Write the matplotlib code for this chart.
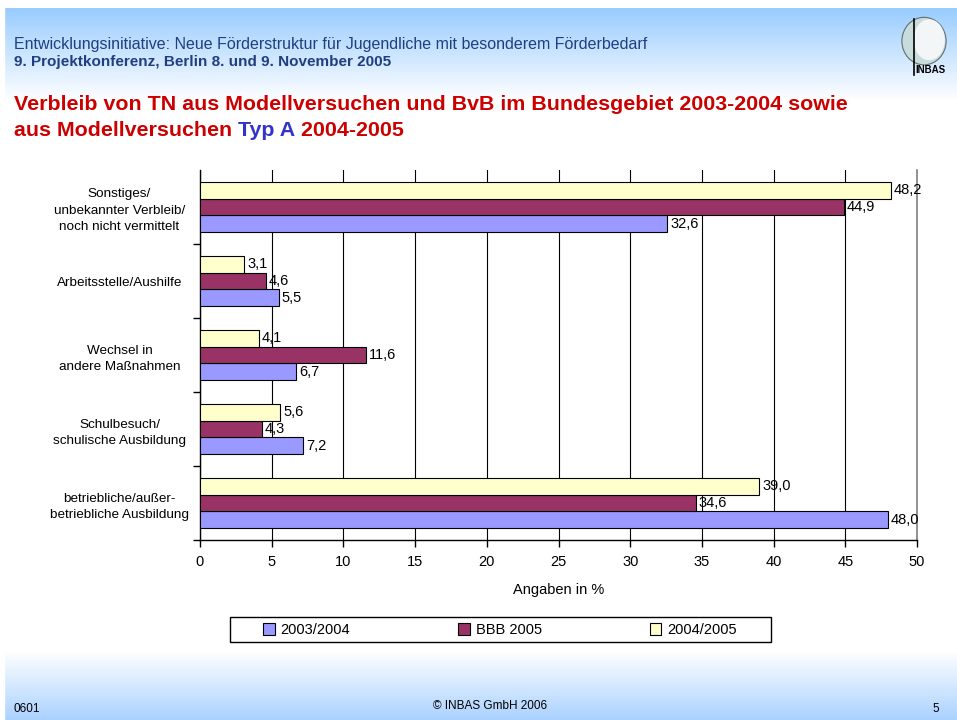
import numpy as np
import matplotlib
matplotlib.use("Agg")
import matplotlib.pyplot as plt
from matplotlib.patches import Rectangle, Ellipse

plt.rcParams['font.family'] = ['Liberation Sans', 'DejaVu Sans']

categories = ["betriebliche/außer-\nbetriebliche Ausbildung",
              "Schulbesuch/\nschulische Ausbildung",
              "Wechsel in\nandere Maßnahmen",
              "Arbeitsstelle/Aushilfe",
              "Sonstiges/\nunbekannter Verbleib/\nnoch nicht vermittelt"]
series_names = ["2003/2004", "BBB 2005", "2004/2005"]
v_2003_2004 = [48.0, 7.2, 6.7, 5.5, 32.6]
v_bbb_2005 = [34.6, 4.3, 11.6, 4.6, 44.9]
v_2004_2005 = [39.0, 5.6, 4.1, 3.1, 48.2]
x_ticks = [0, 5, 10, 15, 20, 25, 30, 35, 40, 45, 50]
colors = ["#9999FF", "#993366", "#FFFFCC"]

W, H = 957, 720
fig = plt.figure(figsize=(W / 100, H / 100), dpi=100)

# background gradient
bg = fig.add_axes([0, 0, 1, 1], zorder=-10)
bg.set_axis_off()
rows = np.linspace(0, H, H)
top_c = np.array([153, 204, 255]) / 255.0
bot_c = np.array([170, 210, 255]) / 255.0
img = np.ones((H, 1, 3))
for i, y in enumerate(rows):
    if y < 8:
        c = np.ones(3)
    elif y < 100:
        t = (y - 8) / 92.0
        c = top_c * (1 - t) + np.ones(3) * t
    elif y > 652:
        t = (y - 652) / 68.0
        c = np.ones(3) * (1 - t) + bot_c * t
    else:
        c = np.ones(3)
    img[i, 0, :] = c
bg.imshow(img, aspect='auto', extent=[0, 1, 0, 1], origin='upper')
bg.add_patch(Rectangle((0, 0), 4 / W, 1, color='white', transform=bg.transAxes))
bg.set_xlim(0, 1)
bg.set_ylim(0, 1)

# header texts
navy = "#1F3F80"
fig.text(14 / W, 1 - 44 / H, "Entwicklungsinitiative: Neue Förderstruktur für Jugendliche mit besonderem Förderbedarf",
         color=navy, fontsize=11.5, va='center', ha='left')
fig.text(14 / W, 1 - 62 / H, "9. Projektkonferenz, Berlin 8. und 9. November 2005",
         color=navy, fontsize=11.0, fontweight='bold', va='center', ha='left')

red = "#CC0000"
blue = "#3333CC"
fs_title = 15.4
fig.text(14 / W, 1 - 105 / H, "Verbleib von TN aus Modellversuchen und BvB im Bundesgebiet 2003-2004 sowie",
         color=red, fontsize=fs_title, fontweight='bold', va='center', ha='left')
renderer = fig.canvas.get_renderer()
xpos = 14
for part, col in [("aus Modellversuchen ", red), ("Typ A", blue), (" 2004-2005", red)]:
    t = fig.text(xpos / W, 1 - 131 / H, part, color=col, fontsize=fs_title, fontweight='bold',
                 va='center', ha='left')
    bb = t.get_window_extent(renderer=renderer)
    xpos += bb.width

# logo approximation
logo = fig.add_axes([898 / W, 1 - 82 / H, 52 / W, 66 / H], zorder=5)
logo.set_axis_off()
logo.set_xlim(0, 1)
logo.set_ylim(0, 1)
logo.add_patch(Ellipse((0.5, 0.62), 0.85, 0.72, facecolor="#C8DCDC", edgecolor="#607070", lw=0.8))
logo.add_patch(Ellipse((0.6, 0.64), 0.6, 0.62, facecolor="#F2F6F6", edgecolor='none'))
logo.plot([0.3, 0.3], [0.1, 0.95], color='black', lw=1.2)
logo.text(0.62, 0.18, "INBAS", fontsize=7, fontweight='bold', ha='center', va='center')

# main chart
ax = fig.add_axes([200 / W, 1 - 540 / H, 717 / W, 370 / H])
n = len(categories)
y = np.arange(n)
h = 0.225
series = [v_2003_2004, v_bbb_2005, v_2004_2005]
offsets = [-h, 0, h]
bars_all = []
for vals, off, col, name in zip(series, offsets, colors, series_names):
    b = ax.barh(y + off, vals, height=h, color=col, edgecolor='black', linewidth=0.8,
                label=name, zorder=3)
    bars_all.append(b)
    for yi, v in zip(y, vals):
        ax.annotate(f"{v:.1f}".replace('.', ','), xy=(v, yi + off), xytext=(2, 0),
                    textcoords='offset points', ha='left', va='center', fontsize=10.5, zorder=4)

ax.set_xlim(0, 50)
ax.set_ylim(-0.5, n - 0.5)
ax.set_xticks(x_ticks)
ax.set_xticklabels([str(t) for t in x_ticks], fontsize=10.5)
ax.set_yticks(y)
ax.set_yticklabels(categories, fontsize=9.7, ha='center', multialignment='center',
                   linespacing=1.45)
ax.tick_params(axis='y', which='major', length=0, pad=58)
ax.set_yticks(np.arange(-0.5, n - 1, 1.0), minor=True)
ax.tick_params(axis='y', which='minor', length=5, direction='out', width=1)
ax.tick_params(axis='x', length=5, direction='out', width=1, pad=6)
ax.grid(axis='x', color='black', linewidth=0.8, zorder=0)
ax.set_axisbelow(True)
ax.spines['top'].set_visible(False)
ax.spines['right'].set_color('#808080')
ax.spines['right'].set_linewidth(1.2)
ax.spines['left'].set_linewidth(1.0)
ax.spines['bottom'].set_linewidth(1.0)
ax.set_xlabel("Angaben in %", fontsize=10.5, labelpad=10)
ax.set_facecolor('none')

# legend
fig.add_artist(Rectangle((230 / W, 1 - 642 / H), 541 / W, 25 / H, transform=fig.transFigure,
                         facecolor='white', edgecolor='black', linewidth=1.0, zorder=1))
leg = fig.legend(handles=bars_all, labels=series_names, loc='center',
                 bbox_to_anchor=(500 / W, 1 - 630 / H), ncol=3, frameon=False,
                 fontsize=10.5, handlelength=0.8, handleheight=0.8, handletextpad=0.4,
                 columnspacing=7.4)
leg.set_zorder(2)

# footer
fig.text(14 / W, 1 - 709 / H, "0601", fontsize=8.5, ha='left', va='center')
fig.text(490 / W, 1 - 706 / H, "© INBAS GmbH 2006", fontsize=8.5, ha='center', va='center')
fig.text(936 / W, 1 - 709 / H, "5", fontsize=8.5, ha='center', va='center')

fig.savefig("out.png", dpi=100)
